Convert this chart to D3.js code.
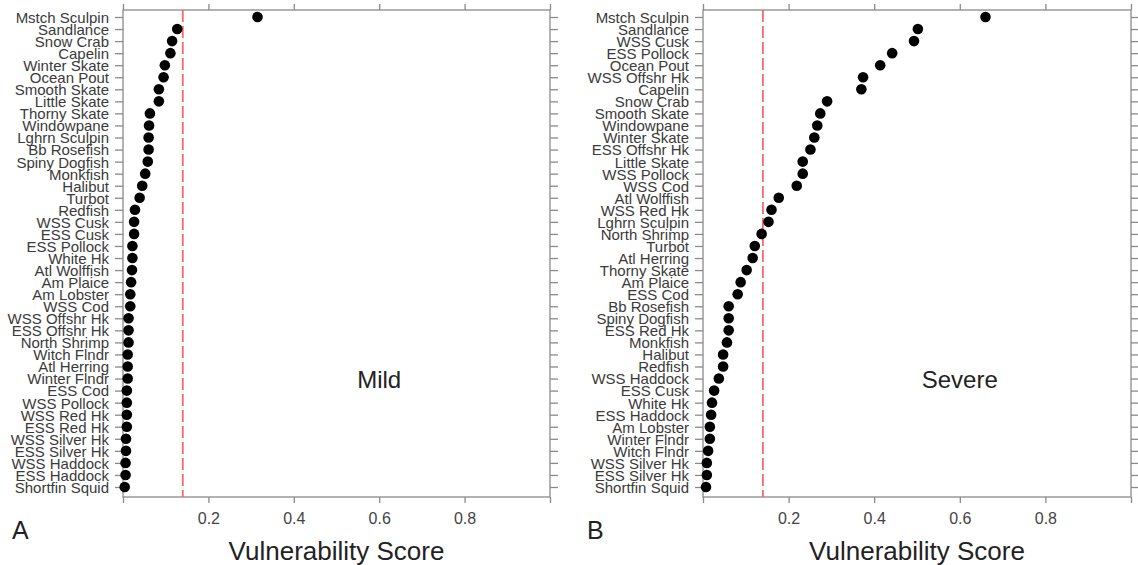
<!DOCTYPE html>
<html>
<head>
<meta charset="utf-8">
<script src="https://cdn.jsdelivr.net/npm/d3@7"></script>
<style>
  body { margin: 0; background: #fff; }
  svg { font-family: "Liberation Sans", Arial, sans-serif; }
</style>
</head>
<body>
<div id="vis"></div>
<script>
const mildSpecies = ["Mstch Sculpin", "Sandlance", "Snow Crab", "Capelin", "Winter Skate", "Ocean Pout",
  "Smooth Skate", "Little Skate", "Thorny Skate", "Windowpane", "Lghrn Sculpin", "Bb Rosefish",
  "Spiny Dogfish", "Monkfish", "Halibut", "Turbot", "Redfish", "WSS Cusk", "ESS Cusk", "ESS Pollock",
  "White Hk", "Atl Wolffish", "Am Plaice", "Am Lobster", "WSS Cod", "WSS Offshr Hk", "ESS Offshr Hk",
  "North Shrimp", "Witch Flndr", "Atl Herring", "Winter Flndr", "ESS Cod", "WSS Pollock", "WSS Red Hk",
  "ESS Red Hk", "WSS Silver Hk", "ESS Silver Hk", "WSS Haddock", "ESS Haddock", "Shortfin Squid"];
const mildScores = [0.315, 0.127, 0.115, 0.111, 0.098, 0.095, 0.084, 0.084, 0.063, 0.061, 0.060, 0.060,
  0.058, 0.052, 0.045, 0.039, 0.028, 0.026, 0.026, 0.022, 0.022, 0.021, 0.019, 0.017, 0.017, 0.013,
  0.013, 0.013, 0.011, 0.011, 0.011, 0.009, 0.009, 0.009, 0.009, 0.007, 0.007, 0.006, 0.006, 0.004];

const severeSpecies = ["Mstch Sculpin", "Sandlance", "WSS Cusk", "ESS Pollock", "Ocean Pout", "WSS Offshr Hk",
  "Capelin", "Snow Crab", "Smooth Skate", "Windowpane", "Winter Skate", "ESS Offshr Hk", "Little Skate",
  "WSS Pollock", "WSS Cod", "Atl Wolffish", "WSS Red Hk", "Lghrn Sculpin", "North Shrimp", "Turbot",
  "Atl Herring", "Thorny Skate", "Am Plaice", "ESS Cod", "Bb Rosefish", "Spiny Dogfish", "ESS Red Hk",
  "Monkfish", "Halibut", "Redfish", "WSS Haddock", "ESS Cusk", "White Hk", "ESS Haddock", "Am Lobster",
  "Winter Flndr", "Witch Flndr", "WSS Silver Hk", "ESS Silver Hk", "Shortfin Squid"];
const severeScores = [0.66, 0.502, 0.493, 0.442, 0.414, 0.374, 0.370, 0.290, 0.274, 0.267, 0.260, 0.251,
  0.233, 0.233, 0.219, 0.177, 0.160, 0.153, 0.137, 0.121, 0.116, 0.102, 0.088, 0.081, 0.060, 0.060,
  0.060, 0.056, 0.047, 0.047, 0.037, 0.026, 0.021, 0.019, 0.016, 0.016, 0.012, 0.009, 0.009, 0.007];

const xTicks = [0, 0.2, 0.4, 0.6, 0.8, 1.0];
const threshold = 0.14;

const svg = d3.select("#vis").append("svg")
  .attr("width", 1138)
  .attr("height", 565);

const panels = [
  { species: mildSpecies, scores: mildScores, left: 123, width: 427, letter: "A", letterX: 12, note: "Mild" },
  { species: severeSpecies, scores: severeScores, left: 703, width: 428, letter: "B", letterX: 587, note: "Severe" }
];

const plotTop = 10, plotHeight = 487;
const axisColor = "#8a8a8a";

panels.forEach(p => {
  const g = svg.append("g").attr("transform", `translate(${p.left},${plotTop})`);
  const data = p.species.map((s, i) => ({ name: s, score: p.scores[i] }));

  const x = d3.scaleLinear().domain([0, 1]).range([0, p.width]);
  const y = d3.scalePoint().domain(p.species).range([7, plotHeight - 10]);

  const styleAxis = sel => {
    sel.select(".domain").remove();
    sel.selectAll(".tick line").attr("stroke", axisColor).attr("stroke-width", 1.3);
  };

  g.append("g")
    .call(d3.axisLeft(y).tickSize(8).tickPadding(6))
    .call(styleAxis)
    .call(a => a.selectAll("text")
      .attr("fill", "#3a3a3a")
      .style("font-size", "15px")
      .attr("dy", "0.36em"));

  g.append("g")
    .attr("transform", `translate(${p.width},0)`)
    .call(d3.axisRight(y).tickSize(8).tickFormat(""))
    .call(styleAxis);

  g.append("g")
    .call(d3.axisTop(x).tickValues(xTicks).tickSize(6).tickFormat(""))
    .call(styleAxis);

  g.append("g")
    .attr("transform", `translate(0,${plotHeight})`)
    .call(d3.axisBottom(x).tickValues(xTicks).tickSize(6).tickPadding(10)
      .tickFormat(d => (d > 0 && d < 1) ? d3.format(".1f")(d) : ""))
    .call(styleAxis)
    .call(a => a.selectAll("text").attr("fill", "#444").style("font-size", "16px"));

  g.append("rect")
    .attr("width", p.width)
    .attr("height", plotHeight)
    .attr("fill", "none")
    .attr("stroke", axisColor)
    .attr("stroke-width", 1.3);

  g.append("line")
    .attr("x1", x(threshold)).attr("x2", x(threshold))
    .attr("y1", 0).attr("y2", plotHeight)
    .attr("stroke", "#f46a6a")
    .attr("stroke-width", 1.8)
    .attr("stroke-dasharray", "12,4");

  g.selectAll("circle")
    .data(data)
    .join("circle")
    .attr("cx", d => x(d.score))
    .attr("cy", d => y(d.name))
    .attr("r", 5.3)
    .attr("fill", "#000");

  g.append("text")
    .attr("x", x(0.6))
    .attr("y", 378)
    .attr("text-anchor", "middle")
    .attr("fill", "#222")
    .style("font-size", "24px")
    .text(p.note);

  g.append("text")
    .attr("x", p.width / 2)
    .attr("y", 550)
    .attr("text-anchor", "middle")
    .attr("fill", "#222")
    .style("font-size", "26px")
    .text("Vulnerability Score");

  svg.append("text")
    .attr("x", p.letterX)
    .attr("y", 539)
    .attr("fill", "#222")
    .style("font-size", "25px")
    .text(p.letter);
});
</script>
</body>
</html>
